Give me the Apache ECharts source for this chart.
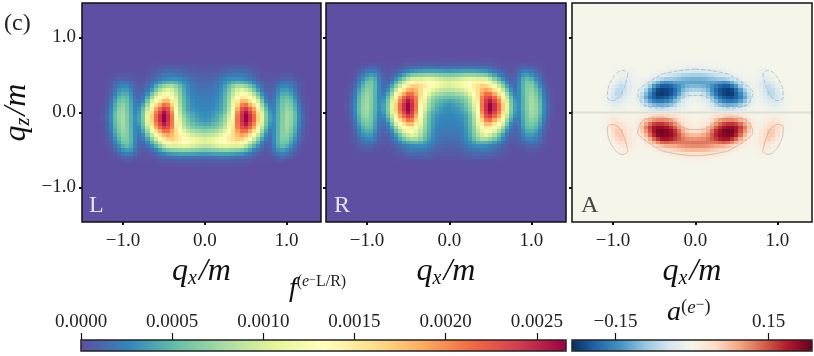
<!DOCTYPE html>
<html>
<head>
<meta charset="utf-8">
<script src="https://cdn.jsdelivr.net/npm/echarts@6/dist/echarts.min.js"></script>
<style>
html, body { margin: 0; padding: 0; background: #fff; }
#chart { width: 814px; height: 356px; }
</style>
</head>
<body>
<div id="chart"></div>
<script>
const serif = '"Liberation Serif", "DejaVu Serif", serif';

const xTicks = [-1, 0, 1];
const zTicks = [-1, 0, 1];
const fTicks = [0, 0.0005, 0.001, 0.0015, 0.002, 0.0025];
const aTicks = [-0.15, 0.15];
const panelNames = ['L', 'R', 'A'];

const xLim = [-1.5, 1.42];
const zLim = [-1.46, 1.46];
const fMax = 0.00266;
const aMax = 0.235;
const step = 0.05;

// f for the L panel, units of 1e-5.
// rows: qz = 0.70 down to -0.70, columns: |qx| = 0, 0.05, 0.10 ... (missing = 0)
const lRows = [
  [1,1,1,1,1,1,1,1,1,1,1],
  [2,2,2,2,2,3,3,3,3,3,2,2,1,1],
  [3,3,3,4,5,6,7,7,7,7,6,4,3,2,1,1,0,0,1,1,1,1,1],
  [5,5,5,6,8,10,11,12,13,13,11,9,6,4,2,1,1,1,1,2,2,2,1,1],
  [7,7,8,9,12,15,18,19,20,20,18,14,10,6,3,2,1,2,3,4,5,4,3,1],
  [10,10,11,13,18,24,28,30,30,28,25,20,15,9,5,3,3,4,6,9,10,9,6,3,1],
  [13,13,14,17,24,30,38,45,48,46,42,35,26,16,9,5,5,7,11,16,18,16,11,5,2],
  [15,15,16,20,28,38,52,68,78,78,70,58,42,26,14,8,7,9,18,26,27,22,14,6,2],
  [18,18,19,22,30,42,60,80,98,105,96,80,58,36,19,10,9,11,24,34,35,30,19,8,3],
  [20,20,21,24,32,46,66,90,112,125,120,105,82,56,30,15,11,14,30,42,44,38,24,10,3],
  [22,22,23,26,34,48,70,100,128,150,146,128,105,75,42,20,13,17,34,50,53,46,30,13,4],
  [23,23,24,28,36,50,74,108,150,178,178,155,130,100,58,27,17,20,38,54,60,53,36,17,5],
  [24,24,26,30,38,52,78,114,165,205,212,185,160,122,75,40,22,22,40,58,67,60,42,21,7,2],
  [26,26,28,32,40,55,84,122,185,228,240,215,190,145,92,52,30,25,42,60,72,66,46,25,9,3],
  [28,29,32,38,44,60,90,132,200,240,258,235,205,160,104,60,35,27,44,62,76,70,50,27,10,3],
  [30,31,35,42,52,70,98,140,208,245,265,245,214,168,108,63,38,29,45,64,78,71,52,28,11,4],
  [32,35,40,46,58,75,104,142,210,245,265,245,214,168,108,62,38,30,45,64,78,70,51,28,11,4],
  [40,43,48,54,65,82,112,148,208,240,255,234,204,158,102,58,34,28,46,65,77,68,49,26,10,3],
  [52,55,58,64,74,90,120,155,205,228,238,216,186,142,90,50,28,28,46,65,75,65,46,24,9,3],
  [68,70,74,80,90,106,130,160,190,212,212,188,158,120,74,40,22,28,47,65,72,60,42,21,8,2],
  [85,88,92,98,108,122,142,160,178,190,180,155,125,92,56,29,17,28,47,64,68,54,37,17,6,2],
  [100,104,110,118,126,135,150,160,168,165,150,122,95,68,40,20,14,28,47,62,62,47,30,14,5,1],
  [102,106,112,120,128,134,140,143,145,138,120,95,70,48,27,13,13,26,46,58,55,39,24,10,3,1],
  [88,90,94,100,104,108,105,102,102,100,85,65,46,30,16,8,11,24,42,50,44,30,17,6,2],
  [60,62,64,67,70,71,70,68,65,60,50,38,26,16,9,6,8,19,32,36,30,20,11,4,1],
  [34,35,36,37,38,38,38,36,34,32,26,19,13,8,4,3,5,12,20,22,18,11,6,2],
  [16,16,17,17,18,18,18,17,16,15,12,9,6,3,2,2,3,6,10,11,9,6,3,1],
  [6,6,7,7,7,7,7,7,6,6,5,4,2,1,1,1,1,3,4,4,3,2,1],
  [2,2,2,2,2,2,2,2,2,2,2,1,1]
];

// |a| for the A panel, units of 1e-3, negative above qz = 0 and positive below.
// rows: |qz| = 0.70 down to 0.05, columns: |qx| = 0, 0.05, 0.10 ...
const aRows = [
  [1,1,1,1,1,1,1,1,0,0,0,0,0,0,0,1,2,2,2,1],
  [5,5,5,5,4,4,3,2,2,1,1,1,0,1,1,2,3,3,2,1],
  [14,14,14,13,11,9,7,5,3,2,1,1,1,1,2,3,5,5,3,1],
  [40,40,38,35,30,26,20,15,10,5,3,2,2,2,3,5,8,9,7,4,1],
  [78,78,75,70,62,55,48,42,30,20,12,6,3,3,4,7,13,16,12,7,3,1],
  [112,112,110,105,98,90,85,82,70,55,38,22,10,5,6,11,20,27,24,15,6,2],
  [125,125,125,125,125,128,135,142,135,112,85,55,26,10,7,13,27,40,40,26,10,3],
  [105,106,112,125,145,165,185,195,195,170,135,90,50,22,8,14,28,47,58,45,20,6,1],
  [72,76,88,110,145,180,205,215,222,215,180,130,80,40,14,12,25,47,62,60,33,11,3],
  [36,42,58,88,130,172,200,218,225,222,195,150,105,60,22,11,21,40,60,62,41,17,4,1],
  [16,22,36,62,100,140,172,195,205,208,192,162,120,70,28,9,15,29,46,54,45,22,7,1],
  [8,12,20,38,68,105,135,158,170,170,160,130,95,55,22,7,11,19,30,39,36,20,7,1],
  [4,7,12,22,42,68,92,108,115,115,105,85,60,34,13,5,7,11,17,24,23,13,5,1],
  [2,3,6,11,20,32,44,52,55,52,46,34,22,12,5,2,3,5,8,11,11,7,3]
];

// contours of the A panel, upper left quarter, [qx, qz]
const blobContour = [[0,0.58],[-0.15,0.565],[-0.31,0.535],[-0.39,0.515],[-0.5,0.45],[-0.6,0.38],[-0.67,0.32],[-0.7,0.27],[-0.68,0.18],[-0.64,0.115],[-0.56,0.075],[-0.48,0.06],[-0.39,0.065],[-0.31,0.09],[-0.22,0.15],[-0.15,0.2],[-0.07,0.225],[0,0.227]];
const lobeContour = [[-0.82,0.52],[-0.84,0.42],[-0.88,0.29],[-0.93,0.2],[-1.0,0.16],[-1.07,0.2],[-1.05,0.36],[-0.96,0.52],[-0.88,0.56],[-0.82,0.52]];
const zeroContour = [[-1.5,0],[1.42,0]];

const spectral = ['#5e4fa2','#3288bd','#66c2a5','#abdda4','#e6f598','#ffffbf','#fee08b','#fdae61','#f46d43','#d53e4f','#9e0142'];
const rdbu = ['#053061','#2166ac','#4393c3','#92c5de','#d1e5f0','#f5f5ea','#fddbc7','#f4a582','#d6604d','#b2182b','#67001f'];

const xCells = [];
for (let i = 0; i < 59; i++) xCells.push(+(-1.5 + i * step).toFixed(2));
const zCells = [];
for (let i = 0; i < 59; i++) zCells.push(+(-1.45 + i * step).toFixed(2));

function fAt(qx, qz) {
  const row = lRows[Math.round((0.7 - qz) / step)];
  const v = row ? row[Math.round(Math.abs(qx) / step)] : 0;
  return (v || 0) * 1e-5;
}

function aAt(qx, qz) {
  const row = aRows[Math.round((0.7 - Math.abs(qz)) / step)];
  const v = row ? row[Math.round(Math.abs(qx) / step)] : 0;
  return (v || 0) * 1e-3 * (qz > 0 ? -1 : 1);
}

function cells(fn) {
  const out = [];
  xCells.forEach(x => {
    zCells.forEach(z => {
      out.push([x, z, fn(x, z)]);
    });
  });
  return out;
}

const lData = cells((x, z) => fAt(x, z));
const rData = cells((x, z) => fAt(x, -z));
const aData = cells((x, z) => (Math.abs(z) < 0.01 ? 0 : aAt(x, z)));

// one cell, snapped to whole pixels so neighbours leave no seams
function renderCell(params, api) {
  const x = api.value(0);
  const z = api.value(1);
  const a = api.coord([x - step / 2, z + step / 2]);
  const b = api.coord([x + step / 2, z - step / 2]);
  const left = Math.round(a[0]);
  const top = Math.round(a[1]);
  return {
    type: 'rect',
    shape: { x: left, y: top, width: Math.round(b[0]) - left, height: Math.round(b[1]) - top },
    style: { fill: api.visual('color') }
  };
}

const panelLeft = [81, 326, 572];
const panelWidth = 240;
const panelTop = 3;
const panelHeight = 219;

function fmtTick(v, digits) {
  return (v < 0 ? '\u2212' : '') + Math.abs(v).toFixed(digits);
}

function qRich() {
  return {
    i: { fontFamily: serif, fontStyle: 'italic', fontSize: 32, lineHeight: 34, color: '#111' },
    p: { fontFamily: serif, fontStyle: 'italic', fontSize: 32, lineHeight: 34, color: '#111', padding: [0, 0, 0, 2] },
    s: { fontFamily: serif, fontStyle: 'italic', fontSize: 20, lineHeight: 20, verticalAlign: 'bottom', color: '#111' }
  };
}

const grids = [];
const xAxes = [];
const yAxes = [];
const series = [];

panelLeft.forEach((left, p) => {
  grids.push({
    left: left, top: panelTop, width: panelWidth, height: panelHeight,
    show: true, z: 5, backgroundColor: 'transparent', borderColor: '#111', borderWidth: 1.5
  });
  xAxes.push({
    type: 'value', gridIndex: p, min: xLim[0], max: xLim[1], position: 'bottom', z: 6,
    axisLine: { show: false, onZero: false }, splitLine: { show: false },
    axisTick: { length: 3, lineStyle: { width: 2, color: '#111' }, customValues: xTicks },
    axisLabel: { fontFamily: serif, fontSize: 19, color: '#222', margin: 10, customValues: xTicks, formatter: v => fmtTick(v, 1) },
    name: '{i|q}{s|x}{p|/m}', nameLocation: 'middle', nameGap: 31,
    nameTextStyle: { rich: qRich() }
  });
  yAxes.push({
    type: 'value', gridIndex: p, min: zLim[0], max: zLim[1], position: 'left', z: 6,
    axisLine: { show: false, onZero: false }, splitLine: { show: false },
    axisTick: { length: 3, lineStyle: { width: 2, color: '#111' }, customValues: zTicks },
    axisLabel: { show: p === 0, fontFamily: serif, fontSize: 19, color: '#222', margin: 6, customValues: zTicks, formatter: v => fmtTick(v, 1) },
    name: p === 0 ? '{i|q}{s|z}{p|/m}' : '', nameLocation: 'middle', nameGap: 48, nameRotate: 90,
    nameTextStyle: { rich: qRich() }
  });
  series.push({
    type: 'custom', xAxisIndex: p, yAxisIndex: p, renderItem: renderCell, clip: true,
    encode: { x: 0, y: 1 }, data: [lData, rData, aData][p], progressive: 0, animation: false, silent: true
  });
});

// contour lines in the A panel
function contourLine(points, color, dashed, width) {
  series.push({
    type: 'line', xAxisIndex: 2, yAxisIndex: 2, data: points, smooth: 0.4,
    symbol: 'none', silent: true, animation: false, z: 3,
    lineStyle: { color: color, width: width || 1, type: dashed ? [4, 2] : 'solid' }
  });
}
[1, -1].forEach(sx => {
  contourLine(blobContour.map(p => [sx * p[0], p[1]]), 'rgba(120,140,160,0.45)', true);
  contourLine(blobContour.map(p => [sx * p[0], -p[1]]), 'rgba(140,120,110,0.35)', false);
  contourLine(lobeContour.map(p => [sx * p[0], p[1]]), 'rgba(120,140,160,0.45)', true);
  contourLine(lobeContour.map(p => [sx * p[0], -p[1]]), 'rgba(140,120,110,0.35)', false);
});
contourLine(zeroContour, 'rgba(120,120,110,0.18)', false, 2);

// colorbars: the gradient comes from visualMap, ticks from an axis above it
const barTop = 340;
const barHeight = 11;
[
  { left: 81, width: 485, min: 0, max: fMax, ticks: fTicks, digits: 4 },
  { left: 572, width: 240, min: -aMax, max: aMax, ticks: aTicks, digits: 2 }
].forEach((bar, b) => {
  const g = 3 + b;
  grids.push({
    left: bar.left, top: barTop, width: bar.width, height: barHeight,
    show: true, z: 6, backgroundColor: 'transparent', borderColor: '#222', borderWidth: 1.5
  });
  xAxes.push({
    type: 'value', gridIndex: g, min: bar.min, max: bar.max, position: 'top',
    axisLine: { show: false, onZero: false }, splitLine: { show: false },
    axisTick: { length: 7, lineStyle: { width: 1.2, color: '#111' }, customValues: bar.ticks },
    axisLabel: {
      fontFamily: serif, fontSize: 19, color: '#222', margin: 8, customValues: bar.ticks,
      formatter: v => fmtTick(v, bar.digits)
    }
  });
  yAxes.push({ type: 'value', gridIndex: g, show: false, min: 0, max: 1 });
});

function supRich(size) {
  return {
    b: { fontFamily: serif, fontStyle: 'italic', fontSize: 28, lineHeight: 30, fill: '#111' },
    t: { fontFamily: serif, fontSize: size, lineHeight: 18, verticalAlign: 'top', fill: '#222' },
    e: { fontFamily: serif, fontStyle: 'italic', fontSize: size, lineHeight: 18, verticalAlign: 'top', fill: '#222' },
    m: { fontFamily: serif, fontSize: size - 4, lineHeight: 12, verticalAlign: 'top', fill: '#222' }
  };
}

const option = {
  animation: false,
  backgroundColor: '#fff',
  textStyle: { fontFamily: serif },
  grid: grids,
  xAxis: xAxes,
  yAxis: yAxes,
  visualMap: [
    {
      type: 'continuous', seriesIndex: [0, 1], dimension: 2, min: 0, max: fMax, orient: 'horizontal',
      left: 81, top: barTop, itemWidth: barHeight, itemHeight: 485, padding: 0, text: null,
      calculable: false, realtime: false, hoverLink: false, showLabel: false, inRange: { color: spectral }
    },
    {
      type: 'continuous', seriesIndex: [2], dimension: 2, min: -aMax, max: aMax, orient: 'horizontal',
      left: 572, top: barTop, itemWidth: barHeight, itemHeight: 240, padding: 0, text: null,
      calculable: false, realtime: false, hoverLink: false, showLabel: false, inRange: { color: rdbu }
    }
  ],
  series: series,
  graphic: [
    { type: 'text', z: 20, x: 4, y: 12, style: { text: '(c)', fontFamily: serif, fontSize: 24, fill: '#222' } },
    { type: 'text', z: 20, x: 89, y: 194, style: { text: panelNames[0], fontFamily: serif, fontSize: 24, fill: '#e4e4f0' } },
    { type: 'text', z: 20, x: 334, y: 194, style: { text: panelNames[1], fontFamily: serif, fontSize: 24, fill: '#e4e4f0' } },
    { type: 'text', z: 20, x: 581, y: 194, style: { text: panelNames[2], fontFamily: serif, fontSize: 24, fill: '#444' } },
    {
      type: 'text', z: 20, x: 289, y: 274,
      style: { text: '{b|f}{t|(}{e|e}{m|\u2212}{t|L/R)}', rich: supRich(16) }
    },
    {
      type: 'text', z: 20, x: 667, y: 298,
      style: { text: '{b|a}{t|(}{e|e}{m|\u2212}{t|)}', rich: supRich(19) }
    }
  ]
};

const myChart = echarts.init(document.getElementById('chart'), null, { renderer: 'canvas' });
myChart.setOption(option);
</script>
</body>
</html>
